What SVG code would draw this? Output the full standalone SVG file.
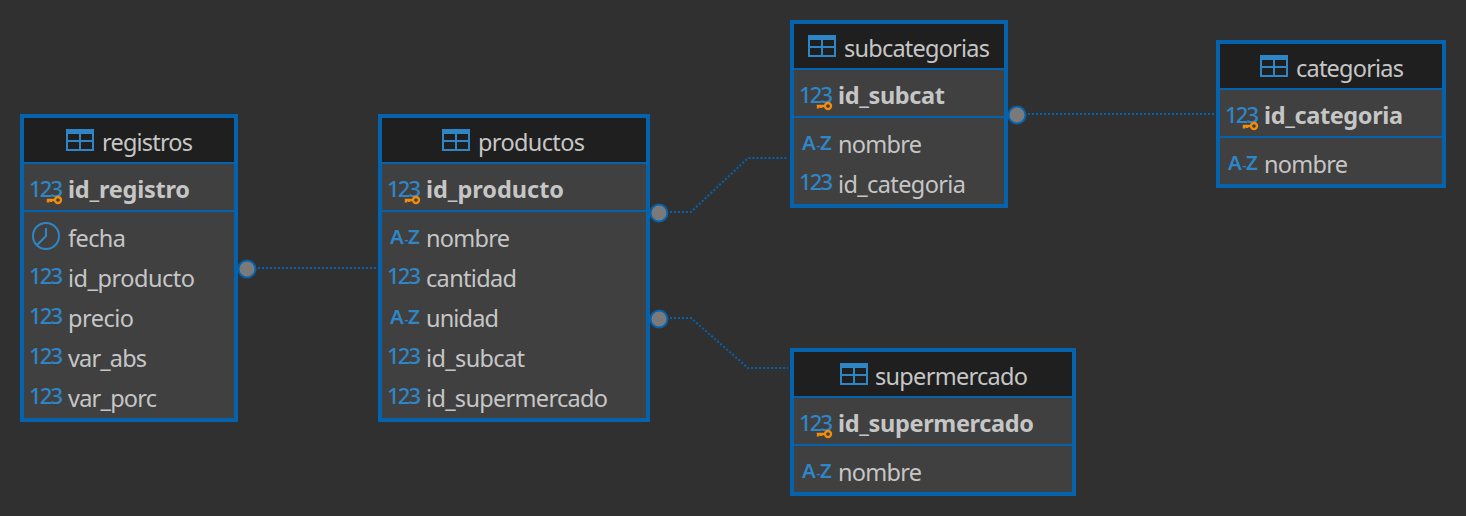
<svg xmlns="http://www.w3.org/2000/svg" width="1466" height="516" viewBox="0 0 1466 516">
<style>
.t{font-family:"Noto Sans","Open Sans","Liberation Sans",sans-serif;font-size:23.5px;fill:#c6c6c6}
.b{font-weight:700}
.i{font-family:"Noto Sans","Liberation Sans",sans-serif;font-size:22px;fill:#2f86c6;font-weight:500}
.a{font-size:20.500px;font-weight:600}
.h{font-size:12px}
.box{fill:#404040}
.head{fill:#1f1f1f}
.frame{fill:none;stroke:#0563ad;stroke-width:4}
.div{fill:#0563ad}
.link{fill:none;stroke:#0563ad;stroke-width:2;stroke-dasharray:2 2}
.dot{fill:#7a7a7a;stroke:#0563ad;stroke-width:2}
</style>
<defs>
<g id="tbl"><rect x="1" y="1" width="26" height="20" fill="none" stroke="#2f86c6" stroke-width="2"/><rect x="0" y="0" width="28" height="5" fill="#2f86c6"/><path d="M14 1V21M1 12H27" stroke="#2f86c6" stroke-width="2" fill="none"/></g>
<g id="key"><circle cx="0" cy="0" r="3" fill="none" stroke="#f28c0c" stroke-width="2.4"/><path d="M-3 0H-10V2.5M-7 0V2" fill="none" stroke="#f28c0c" stroke-width="2.4"/></g>
<g id="clock" fill="none" stroke="#2f86c6" stroke-width="2"><circle cx="0" cy="0" r="13"/><path d="M0-8V0L-9 9"/></g>
</defs>
<rect width="1466" height="516" fill="#303030"/>
<g id="connectors">
<path class="link" d="M258 268H378"/>
<path class="link" d="M670 212H691L748 158H788"/>
<path class="link" d="M670 318H691L748 368H788"/>
<path class="link" d="M1028 114H1214"/>
</g>
<g id="registros">
<rect class="box" x="20" y="114" width="218" height="308"/><rect class="head" x="22" y="116" width="214" height="46"/>
<rect class="div" x="22" y="162" width="214" height="2"/><rect class="div" x="22" y="210" width="214" height="2"/><rect class="frame" x="22" y="116" width="214" height="304"/>
<use href="#tbl" x="66" y="129"/><text class="t" x="102" y="150.500" textLength="91">registros</text>
<text class="i" x="29" y="197" textLength="34">123</text><use href="#key" x="58" y="200"/><text class="t b" x="68" y="198" textLength="122">id_registro</text>
<use href="#clock" x="46" y="236"/><text class="t" x="68" y="246.500" textLength="58">fecha</text>
<text class="i" x="29" y="284" textLength="34">123</text><text class="t" x="68" y="286.500" textLength="127">id_producto</text>
<text class="i" x="29" y="324" textLength="34">123</text><text class="t" x="68" y="326.500" textLength="66">precio</text>
<text class="i" x="29" y="364" textLength="34">123</text><text class="t" x="68" y="366.500" textLength="79">var_abs</text>
<text class="i" x="29" y="404" textLength="34">123</text><text class="t" x="68" y="406.500" textLength="89">var_porc</text>
<circle class="dot" cx="247" cy="269" r="8.5"/>
</g>
<g id="productos">
<rect class="box" x="378" y="114" width="272" height="308"/><rect class="head" x="380" y="116" width="268" height="46"/>
<rect class="div" x="380" y="162" width="268" height="2"/><rect class="div" x="380" y="210" width="268" height="2"/><rect class="frame" x="380" y="116" width="268" height="304"/>
<use href="#tbl" x="442" y="129"/><text class="t" x="478" y="150.500" textLength="107">productos</text>
<text class="i" x="387" y="197" textLength="34">123</text><use href="#key" x="416" y="200"/><text class="t b" x="426" y="198" textLength="138">id_producto</text>
<text class="i a" x="390" y="244">A<tspan class="h" x="404.500">-</tspan><tspan x="408">Z</tspan></text><text class="t" x="426" y="246.500" textLength="84">nombre</text>
<text class="i" x="387" y="284" textLength="34">123</text><text class="t" x="426" y="286.500" textLength="91">cantidad</text>
<text class="i a" x="390" y="324">A<tspan class="h" x="404.500">-</tspan><tspan x="408">Z</tspan></text><text class="t" x="426" y="326.500" textLength="73">unidad</text>
<text class="i" x="387" y="364" textLength="34">123</text><text class="t" x="426" y="366.500" textLength="99">id_subcat</text>
<text class="i" x="387" y="404" textLength="34">123</text><text class="t" x="426" y="406.500" textLength="182">id_supermercado</text>
<circle class="dot" cx="659" cy="213" r="8.5"/><circle class="dot" cx="659" cy="319" r="8.5"/>
</g>
<g id="subcategorias">
<rect class="box" x="790" y="20" width="218" height="188"/><rect class="head" x="792" y="22" width="214" height="46"/>
<rect class="div" x="792" y="68" width="214" height="2"/><rect class="div" x="792" y="116" width="214" height="2"/><rect class="frame" x="792" y="22" width="214" height="184"/>
<use href="#tbl" x="808" y="35"/><text class="t" x="844" y="56.500" textLength="146">subcategorias</text>
<text class="i" x="799" y="103" textLength="34">123</text><use href="#key" x="828" y="106"/><text class="t b" x="838" y="104" textLength="107">id_subcat</text>
<text class="i a" x="802" y="150">A<tspan class="h" x="816.500">-</tspan><tspan x="820">Z</tspan></text><text class="t" x="838" y="152.500" textLength="84">nombre</text>
<text class="i" x="799" y="190" textLength="34">123</text><text class="t" x="838" y="192.500" textLength="128">id_categoria</text>
<circle class="dot" cx="1017" cy="115" r="8.5"/>
</g>
<g id="categorias">
<rect class="box" x="1216" y="40" width="230" height="148"/><rect class="head" x="1218" y="42" width="226" height="46"/>
<rect class="div" x="1218" y="88" width="226" height="2"/><rect class="div" x="1218" y="136" width="226" height="2"/><rect class="frame" x="1218" y="42" width="226" height="144"/>
<use href="#tbl" x="1260" y="55"/><text class="t" x="1296" y="76.500" textLength="108">categorias</text>
<text class="i" x="1225" y="123" textLength="34">123</text><use href="#key" x="1254" y="126"/><text class="t b" x="1264" y="124" textLength="139">id_categoria</text>
<text class="i a" x="1228" y="170">A<tspan class="h" x="1242.500">-</tspan><tspan x="1246">Z</tspan></text><text class="t" x="1264" y="172.500" textLength="84">nombre</text>
</g>
<g id="supermercado">
<rect class="box" x="790" y="348" width="286" height="148"/><rect class="head" x="792" y="350" width="282" height="46"/>
<rect class="div" x="792" y="396" width="282" height="2"/><rect class="div" x="792" y="444" width="282" height="2"/><rect class="frame" x="792" y="350" width="282" height="144"/>
<use href="#tbl" x="840" y="363"/><text class="t" x="875" y="384.500" textLength="153">supermercado</text>
<text class="i" x="799" y="431" textLength="34">123</text><use href="#key" x="828" y="434"/><text class="t b" x="838" y="432" textLength="196">id_supermercado</text>
<text class="i a" x="802" y="478">A<tspan class="h" x="816.500">-</tspan><tspan x="820">Z</tspan></text><text class="t" x="838" y="480.500" textLength="84">nombre</text>
</g>
</svg>
